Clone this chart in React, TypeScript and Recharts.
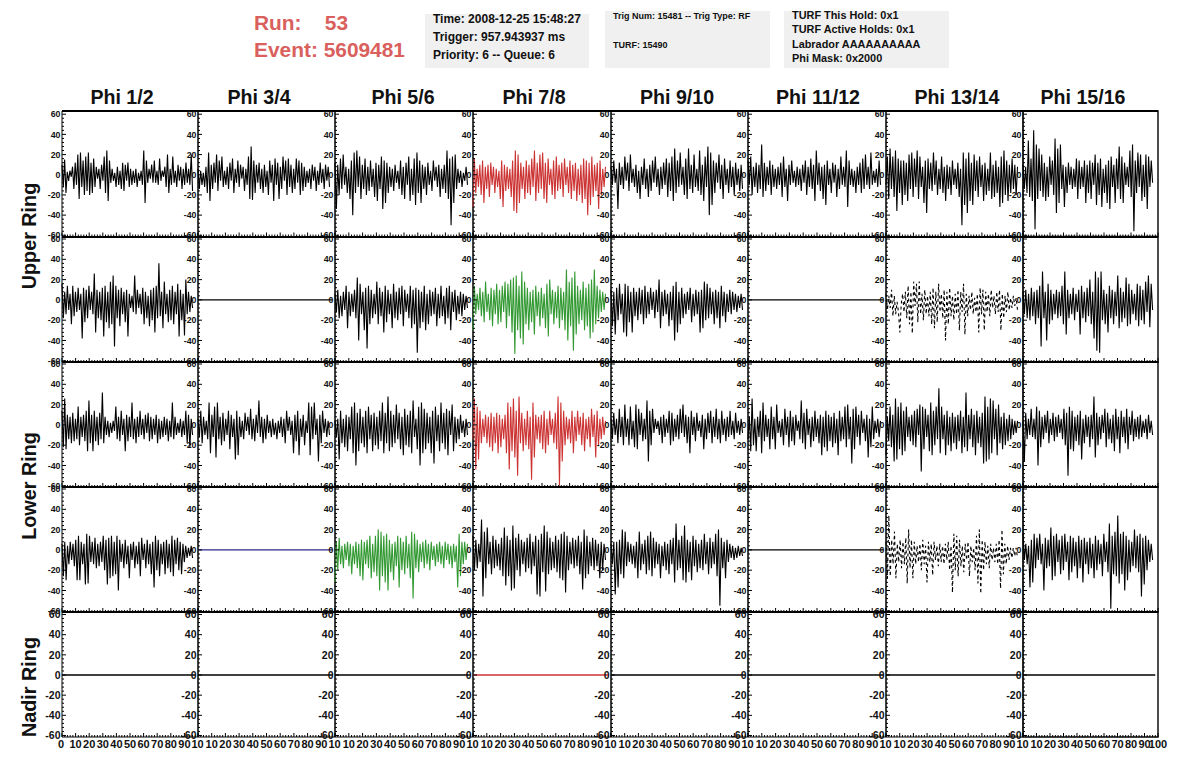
import { LineChart, Line, XAxis, YAxis, ReferenceArea, ReferenceLine } from 'recharts';

// ADC traces, one per antenna, in mV
const upper12 = [10,-12,15,-18,3,-6,4,-2,8,-14,12,-10,20,-24,22,-12,14,-20,18,-16,22,-20,12,-18,16,-12,8,-4,6,-14,10,-6,18,-18,24,-26,14,-8,6,-6,2,-12,8,-10,4,-14,12,-16,10,-6,12,-12,6,-10,4,-8,6,-12,2,-6,4,-10,24,-28,14,-8,6,-4,10,-8,14,-8,4,-10,16,-6,4,-2,8,-12,20,-18,6,-10,18,-8,4,-12,10,-6,8,-14,6,-10,12,-8,6,-10,20,-16];
const upper34 = [6,-14,4,-10,2,-12,8,-18,22,-26,10,-14,12,-8,20,-16,14,-6,18,-12,4,-10,8,-14,12,-6,16,-18,6,-8,14,-12,10,-4,8,-16,6,-10,18,-24,28,-25,14,-18,10,-8,12,-14,6,-18,10,-12,4,-20,14,-8,10,-26,16,-10,12,-24,8,-14,18,-6,14,-20,16,-12,10,-18,6,-14,16,-8,14,-20,12,-16,8,-12,4,-8,6,-14,10,-6,8,-16,4,-10,12,-8,6,-14,10,-6,8,-12];
const upper56 = [12,-34,10,-20,16,-14,20,-10,8,-18,6,-24,14,-40,22,-18,24,-12,18,-24,10,-14,16,-20,8,-16,14,-12,6,-22,12,-26,10,-14,18,-34,14,-28,12,-18,8,-12,6,-16,10,-8,4,-14,14,-20,8,-24,12,-10,18,-26,6,-20,16,-30,22,-18,14,-28,10,-14,8,-20,12,-10,4,-16,14,-6,8,-12,10,-22,6,-14,10,-18,24,-24,16,-50,18,-28,20,-14,6,-8,4,-12,2,-6,8,-10];
const upper78 = [-32,16,-18,6,-12,10,-20,14,-28,8,-14,10,-22,12,-10,8,-18,6,-12,4,-24,14,-32,10,-16,8,-14,6,-22,14,-36,24,-38,20,-28,12,-14,8,-24,14,-18,10,-20,16,-12,24,-26,12,-18,20,-14,22,-24,12,-28,16,-10,6,-20,14,-24,18,-16,10,-14,12,-22,16,-10,8,-18,14,-24,10,-16,12,-26,6,-20,10,-28,16,-24,14,-40,12,-30,18,-22,10,-16,12,-34,14,-20,6,-12,8];
const upper910 = [8,-10,14,-8,6,-34,12,-10,8,-14,18,-6,12,-16,20,-8,6,-12,10,-18,4,-24,8,-10,16,-14,6,-22,10,-16,14,-8,18,-12,6,-20,8,-14,12,-10,16,-22,12,-16,18,-26,26,-18,14,-12,22,-10,8,-20,16,-24,26,-14,10,-18,20,-12,6,-16,24,-20,10,-26,18,-12,28,-40,22,-30,14,-18,12,-8,20,-14,10,-24,16,-10,6,-18,14,-12,8,-20,12,-10,6,-16,10,-14];
const upper1112 = [14,-10,18,-20,8,-12,12,-18,10,-14,30,-22,12,-16,8,-10,14,-20,10,-12,6,-14,8,-10,12,-22,18,-12,6,-26,10,-10,14,-8,4,-12,8,-10,6,-16,10,-8,14,-20,8,-12,16,-14,10,-26,24,-10,12,-16,8,-24,10,-30,14,-10,6,-18,12,-8,10,-22,6,-14,18,-10,8,-12,24,-32,14,-10,6,-12,4,-18,8,-10,12,-18,16,-14,20,-10,8,-14,22,-10,4,-8,6,-12,14,-10];
const upper1314 = [-10,18,-24,26,-14,18,-22,24,-36,16,-18,14,-30,14,-20,12,-26,20,-14,22,-22,16,-12,24,-24,18,-12,8,-28,14,-38,16,-14,12,-16,22,-10,14,-20,6,-14,18,-18,8,-26,10,-14,8,-20,14,-10,6,-14,12,-22,6,-50,22,-30,16,-38,22,-26,12,-30,20,-16,14,-22,18,-12,10,-26,12,-20,6,-16,22,-24,10,-22,14,-18,8,-32,18,-28,24,-20,14,-26,10,-18,16,-14,10,-20,8];
const upper1516 = [10,-14,8,-18,34,-22,16,-26,44,-54,30,-24,26,-16,20,-22,12,-26,8,-22,18,-10,14,-20,36,-38,26,-28,30,-14,10,-32,8,-18,12,-10,8,-14,6,-12,16,-24,14,-14,8,-12,14,-28,10,-18,14,-24,12,-10,20,-30,12,-20,16,-32,6,-18,10,-28,14,-34,18,-12,10,-28,16,-14,28,-24,18,-28,12,-10,8,-12,24,-22,30,-56,14,-18,22,-12,20,-26,10,-22,20,-34,18,-12,14,-8];

const upper12v = [16,-18,8,-14,14,-10,6,-24,14,-16,8,-12,12,-10,6,-38,12,-22,10,-18,14,-10,8,-14,26,-32,10,-18,8,-20,12,-36,14,-22,8,-28,18,-24,24,-46,14,-18,10,-26,12,-14,8,-22,10,-36,6,-8,4,-12,24,-14,10,-8,6,-14,12,-24,8,-18,4,-26,10,-20,12,-32,14,-18,36,-16,8,-28,18,-14,6,-22,10,-20,14,-24,8,-14,16,-36,10,-20,6,-35,20,-14,8,-12,4,-8];
const upper56v = [6,-12,10,-18,4,-16,8,-10,14,-28,8,-16,6,-12,10,-18,22,-40,16,-14,8,-30,12,-48,14,-24,10,-18,6,-14,18,-24,12,-16,8,-32,14,-22,10,-14,6,-28,16,-18,8,-20,12,-14,14,-26,10,-12,6,-18,14,-28,10,-24,12,-52,10,-28,8,-22,14,-30,6,-24,10,-16,8,-14,12,-26,6,-18,14,-16,4,-24,12,-18,14,-30,8,-12,10,-20,4,-14,8,-16,6,-10,4,-8];
const upper78v = [-30,14,-14,6,-10,12,-16,8,-22,18,-12,6,-20,12,-26,10,-14,16,-24,10,-22,14,-12,18,-28,16,-16,20,-32,22,-53,24,-30,14,-38,28,-44,18,-24,12,-30,8,-22,10,-34,14,-16,8,-26,12,-18,6,-28,16,-36,20,-14,10,-24,8,-18,14,-28,12,-20,8,-30,30,-40,18,-26,22,-50,28,-34,14,-24,10,-20,18,-30,12,-26,16,-38,20,-32,30,-24,14,-18,10,-12,8,-10,6];
const upper910v = [10,-26,8,-34,12,-20,16,-14,6,-32,16,-36,14,-22,8,-32,12,-16,8,-20,12,-14,10,-24,14,-18,8,-14,12,-10,8,-18,10,-12,20,-28,8,-16,10,-14,6,-26,8,-20,14,-40,18,-32,8,-24,12,-18,6,-14,8,-10,12,-22,6,-16,10,-14,8,-32,10,-28,18,-20,16,-18,12,-14,8,-24,10,-18,8,-28,14,-16,8,-22,6,-12,10,-14,8,-10,6,-12,4,-8,6,-10];
const upper1314v = [6,-10,4,-8,10,-16,4,-14,-2,-12,-32,-4,6,-12,8,-18,14,-24,8,-33,18,-6,16,-22,18,-14,6,-20,10,-14,4,-16,8,-24,12,-28,8,-22,16,-12,6,-18,10,-40,8,-24,12,-16,4,-20,6,-14,10,-30,8,-12,16,-34,6,-16,4,-10,8,-14,2,-12,6,-32,12,-14,10,-30,8,-12,6,-16,10,-8,4,-14,8,-12,10,-30,6,-18,4,-12,8,-10,2,-8,4,-6,2,-10];
const upper1516v = [8,-14,10,-18,6,-20,12,-16,8,-24,10,-18,14,-46,28,-18,8,-40,16,-24,10,-20,6,-14,10,-18,8,-16,14,-24,28,-34,10,-18,6,-14,12,-20,6,-12,10,-34,14,-18,8,-22,12,-16,20,-24,8,-38,28,-50,22,-52,28,-20,10,-24,6,-32,14,-18,10,-24,8,-16,24,-28,12,-22,8,-18,22,-26,16,-24,10,-14,6,-20,16,-26,14,-20,10,-24,18,-12,24,-27,16,-10];

const lower12 = [14,-22,26,-24,10,-14,8,-18,12,-16,6,-14,18,-20,8,-12,10,-16,14,-26,24,-18,10,-26,14,-16,8,-20,12,-14,32,-18,8,-10,4,-12,2,-8,4,-6,18,-14,8,-16,14,-10,6,-26,10,-16,8,-12,22,-14,6,-18,8,-12,14,-10,6,-14,10,-8,12,-16,8,-14,6,-10,10,-18,6,-14,4,-12,8,-10,6,-16,4,-12,22,-14,8,-10,2,-8,6,-12,4,-10,14,-18,10,-22,6,-10];
const lower34 = [6,-12,14,-18,8,-10,4,-14,22,-28,10,-12,18,-32,22,-14,8,-20,12,-16,6,-10,14,-24,10,-12,6,-34,14,-30,8,-12,4,-14,12,-6,8,-10,16,-14,6,-16,10,-8,24,-12,8,-18,6,-14,10,-8,4,-12,6,-10,2,-14,4,-8,8,-12,6,-18,14,-6,8,-10,4,-28,10,-16,14,-30,6,-12,10,-20,4,-8,22,-30,18,-14,22,-10,6,-36,10,-18,14,-8,6,-12,4,-10];
const lower56 = [4,-12,6,-34,14,-18,6,-22,10,-26,8,-14,18,-28,22,-40,12,-26,16,-18,8,-22,14,-28,18,-14,10,-26,12,-20,8,-24,14,-16,22,-28,12,-18,28,-26,14,-22,10,-18,20,-14,12,-24,8,-30,16,-20,10,-22,14,-28,24,-12,6,-24,18,-40,22,-28,16,-24,12,-18,8,-28,14,-38,18,-16,10,-26,22,-18,12,-24,16,-30,14,-10,20,-26,8,-18,6,-14,10,-8,4,-12,6,-10];
const lower78 = [-14,26,-44,18,-34,14,-18,6,-12,10,-18,8,-22,12,-26,8,-18,12,-28,10,-22,6,-14,10,-28,22,-44,18,-26,26,-32,14,-50,28,-18,12,-26,6,-20,14,-24,8,-54,22,-32,10,-14,8,-18,10,-24,14,-28,6,-20,14,-10,6,-18,12,-24,28,-60,22,-36,14,-20,8,-14,6,-18,14,-28,8,-16,14,-10,8,-20,12,-26,6,-14,8,-22,16,-12,10,-32,14,-20,6,-14,8,-10,4];
const lower910 = [6,-14,12,-10,6,-18,16,-12,8,-20,20,-12,6,-20,18,-14,4,-22,20,-24,16,-10,12,-16,6,-14,24,-36,14,-20,16,-8,6,-4,4,-10,8,-18,10,-12,6,-8,14,-20,12,-16,6,-12,10,-14,16,-8,20,-12,10,-18,8,-28,14,-10,8,-16,12,-6,4,-12,10,-24,6,-14,12,-8,14,-18,8,-12,16,-14,6,-18,14,-10,6,-16,8,-12,14,-10,4,-14,12,-8,4,-10,6,-8];
const lower1112 = [-14,8,-26,26,-20,6,-26,8,-12,14,-28,22,-16,10,-12,6,-24,18,-14,8,-24,20,-8,4,-12,6,-20,16,-10,8,-22,14,-16,8,-20,10,-6,4,-14,24,-18,12,-24,16,-10,6,-22,8,-16,14,-12,6,-18,10,-30,8,-22,14,-26,10,-16,8,-22,12,-18,6,-30,14,-16,8,-14,18,-22,20,-14,8,-38,16,-24,18,-12,10,-20,14,-8,6,-16,10,-32,6,-22,18,-14,4,-8,6,-12,4];
const lower1314 = [-30,8,-16,18,-22,10,-36,26,-34,18,-24,22,-30,14,-26,18,-12,8,-16,10,-20,14,-22,16,-10,20,-46,18,-24,16,-12,10,-26,22,-30,14,-20,18,-14,36,-28,18,-14,10,-30,14,-20,8,-26,12,-18,8,-24,10,-16,14,-28,8,-22,32,-26,10,-14,16,-22,10,-30,14,-18,8,-22,12,-38,28,-36,18,-34,26,-28,24,-14,16,-30,20,-18,8,-24,12,-20,6,-16,10,-14,6,-10,4,-8,4];
const lower1516 = [4,-36,12,-14,6,-10,16,-12,6,-14,18,-40,14,-22,8,-14,10,-8,14,-18,6,-10,12,-16,8,-12,10,-8,6,-14,16,-20,12,-50,18,-24,14,-26,8,-16,10,-20,14,-34,6,-18,10,-12,8,-22,10,-14,28,-32,12,-20,8,-14,10,-8,16,-22,12,-14,6,-18,10,-26,16,-14,8,-28,14,-12,8,-18,16,-24,8,-10,14,-16,6,-12,8,-14,10,-12,4,-8,6,-14,10,-8,4,-10];

const lower12v = [6,-26,8,-30,4,-14,8,-10,6,-16,10,-30,14,-30,8,-14,6,-34,16,-33,14,-12,8,-14,12,-18,6,-16,8,-12,14,-20,10,-34,12,-28,14,-26,8,-24,14,-40,10,-12,6,-18,10,-14,4,-28,6,-10,8,-18,4,-14,8,-26,12,-10,6,-18,10,-14,6,-24,8,-37,14,-20,10,-26,6,-14,8,-24,10,-18,6,-22,14,-26,10,-14,12,-20,8,-24,6,-12,4,-8,2,-6,4,-8];
const lower56v = [-32,8,-20,12,-14,4,-18,6,-10,8,-16,6,-24,4,-14,8,-18,6,-26,10,-30,8,-14,10,-18,14,-28,6,-22,14,-26,20,-40,18,-26,14,-32,16,-40,10,-22,6,-30,8,-16,14,-37,12,-20,8,-24,14,-18,6,-28,18,-48,16,-18,10,-22,6,-12,8,-18,10,-14,6,-20,8,-10,4,-16,6,-12,8,-14,4,-18,8,-10,6,-14,4,-18,6,-12,4,-37,16,-26,8,-14,8,-10,6];
const lower78v = [14,-20,10,-18,6,-12,30,-46,18,-28,22,-14,8,-24,14,-18,10,-16,6,-20,12,-26,22,-35,14,-26,10,-40,24,-38,12,-20,16,-26,10,-14,8,-22,12,-18,16,-24,8,-16,14,-44,10,-46,16,-22,24,-41,18,-24,12,-20,8,-18,14,-22,10,-28,16,-30,18,-42,14,-20,8,-14,12,-18,10,-16,14,-24,8,-39,20,-28,14,-24,8,-16,12,-20,10,-16,6,-28,8,-20,6,-10];
const lower910v = [6,-14,8,-44,8,-37,10,-24,20,-28,18,-16,8,-12,6,-14,4,-18,8,-28,18,-20,6,-14,10,-24,14,-20,18,-26,12,-18,8,-14,6,-28,4,-16,8,-20,6,-24,10,-14,12,-32,26,-20,10,-18,14,-30,24,-32,10,-22,8,-30,14,-16,10,-22,6,-18,10,-20,16,-14,8,-24,12,-18,8,-14,16,-26,20,-55,12,-18,8,-28,10,-12,6,-8,4,-10,2,-8,4,-6,2,-6];
const lower1314v = [8,-28,34,-26,10,-14,18,-28,6,-12,10,-18,8,-14,12,-33,20,-18,10,-28,8,-14,4,-12,6,-20,10,-14,4,-32,8,-12,6,-25,8,-10,4,-16,6,-12,4,-14,6,-10,8,-20,4,-42,16,-20,14,-26,10,-16,4,-22,6,-10,8,-26,4,-12,2,-20,14,-33,20,-43,10,-20,8,-14,4,-18,6,-10,2,-12,6,-14,10,-38,20,-24,6,-14,4,-10,2,-8,2,-6,2,-8];
const lower1516v = [16,-10,6,-14,4,-37,10,-32,16,-18,12,-10,16,-14,6,-40,12,-18,10,-16,22,-30,14,-26,16,-12,10,-24,14,-20,16,-12,8,-30,14,-22,12,-16,8,-28,14,-18,10,-32,12,-14,8,-24,12,-18,6,-28,14,-20,10,-14,6,-26,16,-12,8,-22,26,-58,14,-24,18,-26,34,-33,16,-24,18,-40,14,-30,10,-22,8,-16,20,-18,14,-22,16,-46,12,-34,14,-20,10,-12,6,-10];

const flat = [0, 0];

const ringNames = ['Upper Ring', 'Lower Ring', 'Nadir Ring'];
const phiNames = ['Phi 1/2', 'Phi 3/4', 'Phi 5/6', 'Phi 7/8', 'Phi 9/10', 'Phi 11/12', 'Phi 13/14', 'Phi 15/16'];

const rows = [
  [upper12, upper34, upper56, upper78, upper910, upper1112, upper1314, upper1516],
  [upper12v, flat, upper56v, upper78v, upper910v, flat, upper1314v, upper1516v],
  [lower12, lower34, lower56, lower78, lower910, lower1112, lower1314, lower1516],
  [lower12v, flat, lower56v, lower78v, lower910v, flat, lower1314v, lower1516v],
  [flat, flat, flat, flat, flat, flat, flat, flat],
];

const RED = '#cc3333';
const GREEN = '#339933';
const NAVY = '#2a2a8c';
const traceColors: Record<string, string> = { '0,3': RED, '1,3': GREEN, '2,3': RED, '3,2': GREEN, '3,1': NAVY, '4,3': RED };
const dashed = ['1,6', '3,6'];

const colX = [62, 198, 335, 473, 611, 748, 886, 1023, 1158];
const rowY = [111, 236.5, 361.5, 486.5, 611.5, 736.5];
// the y range differs a little from row to row in the picture
const rowDomains: [number, number][] = [[-61.2, 63.2], [-61.2, 62], [-61.2, 62], [-61.2, 62], [-61.5, 62.5]];
const titleX = [122, 259, 403, 534, 677, 818, 957, 1083];
const ringY = [236, 486, 687];
// axes take 1px each, so the plot starts at margin + 1
const M = { top: 6, right: 14, bottom: 21, left: 33 };
const FONT = '"Liberation Sans", Arial, sans-serif';

const yTicks: number[] = [];
for (let v = -60; v <= 60; v += 4) yTicks.push(v);
const xTicks: number[] = [];
for (let v = 0; v <= 100; v += 2) xTicks.push(v);

function Panel({ values, row, col }: { values: number[]; row: number; col: number }) {
  const key = `${row},${col}`;
  const lastRow = row === 4;
  const lastCol = col === 7;
  const domain = rowDomains[row];
  const isFlat = values === flat;
  const end = isFlat ? 98 : 96;
  const data = values.map((y, i) => ({ x: (i * end) / (values.length - 1), y }));
  const w = colX[col + 1] - colX[col];
  const h = rowY[row + 1] - rowY[row];
  const labelSize = lastRow ? 10.5 : 8.8;

  const yTick = ({ x, y, payload }: any) => {
    const major = payload.value % 20 === 0;
    return (
      <g>
        <line x1={x} x2={x + (major ? 4 : 2)} y1={y} y2={y} stroke="#000" />
        {major && (
          <text x={x - 1.5} y={y + labelSize * 0.36} textAnchor="end" fontSize={labelSize} fontWeight="bold" fontFamily={FONT} fill="#111">
            {payload.value}
          </text>
        )}
      </g>
    );
  };

  const xTick = ({ x, y, payload }: any) => {
    const v = payload.value;
    const major = v % 10 === 0;
    let label = null;
    if (lastRow && major) {
      if (v === 100 && !lastCol) {
        label = <text x={x - 6.5} y={y + 10.5} fontSize={11} fontWeight="bold" fontFamily={FONT} fill="#111">10</text>;
      } else if (v > 0 || col === 0) {
        label = <text x={v === 0 ? x - 1 : x} y={y + 10.5} textAnchor="middle" fontSize={11} fontWeight="bold" fontFamily={FONT} fill="#111">{v}</text>;
      }
    }
    return (
      <g>
        <line x1={x} x2={x} y1={y} y2={y - (major ? 4 : 2)} stroke="#000" />
        {label}
      </g>
    );
  };

  return (
    <div style={{ position: 'absolute', left: colX[col] - M.left - 1, top: rowY[row] - M.top }}>
      <LineChart width={w + M.left + 1 + M.right} height={h + M.top + M.bottom + 1} data={data} margin={M}>
        <XAxis dataKey="x" type="number" domain={[0, 100]} ticks={xTicks} interval={0} height={1} tickSize={0} tickMargin={0} axisLine={false} tickLine={false} tick={xTick} />
        <YAxis type="number" domain={domain} ticks={yTicks} interval={0} width={1} tickSize={0} tickMargin={0} axisLine={false} tickLine={false} tick={yTick} allowDataOverflow />
        <ReferenceArea x1={0} x2={100} y1={domain[0]} y2={domain[1]} fill="none" stroke="#000" strokeWidth={lastCol ? 1.4 : 1} fillOpacity={0} />
        <ReferenceLine y={domain[1]} stroke="#000" strokeWidth={2} />
        <Line
          dataKey="y"
          stroke={traceColors[key] || '#000'}
          strokeWidth={isFlat ? 1.3 : 1.1}
          strokeDasharray={dashed.includes(key) ? '3 3' : undefined}
          dot={false}
          isAnimationActive={false}
        />
      </LineChart>
    </div>
  );
}

const boxText = (left: number, top: number, size: number, text: string) => (
  <div key={text} style={{ position: 'absolute', left, top, fontSize: size, fontWeight: 'bold', lineHeight: 1, color: '#111', whiteSpace: 'nowrap' }}>
    {text}
  </div>
);

const greyBox = (left: number, top: number, width: number, height: number) => (
  <div style={{ position: 'absolute', left, top, width, height, background: '#f0f0f0' }} />
);

export default function App() {
  return (
    <div style={{ position: 'absolute', left: 0, top: 0, width: 1196, height: 772, background: '#fff', overflow: 'hidden', fontFamily: FONT }}>
      <div style={{ position: 'absolute', left: 254, top: 13, fontSize: 20.9, fontWeight: 'bold', lineHeight: 1, color: '#d9605c', whiteSpace: 'pre' }}>{'Run:    53'}</div>
      <div style={{ position: 'absolute', left: 254, top: 40, fontSize: 20.9, fontWeight: 'bold', lineHeight: 1, color: '#d9605c', whiteSpace: 'pre' }}>{'Event: 5609481'}</div>

      {greyBox(425, 14, 164, 54)}
      {greyBox(605, 11, 165, 57)}
      {greyBox(784, 11, 165, 57)}
      {boxText(433, 12.5, 12, 'Time: 2008-12-25 15:48:27')}
      {boxText(433, 30.5, 12, 'Trigger: 957.943937 ms')}
      {boxText(433, 48.5, 12, 'Priority: 6 -- Queue: 6')}
      {boxText(613, 12, 9, 'Trig Num: 15481 -- Trig Type: RF')}
      {boxText(613, 40.5, 9, 'TURF: 15490')}
      {boxText(792, 9.5, 10.9, 'TURF This Hold: 0x1')}
      {boxText(792, 23.5, 10.9, 'TURF Active Holds: 0x1')}
      {boxText(792, 38.5, 10.9, 'Labrador AAAAAAAAAA')}
      {boxText(792, 52.5, 10.9, 'Phi Mask: 0x2000')}

      {phiNames.map((name, i) => (
        <div key={name} style={{ position: 'absolute', left: titleX[i] - 60, width: 120, top: 88, textAlign: 'center', fontSize: 19.6, fontWeight: 'bold', lineHeight: 1, color: '#111' }}>
          {name}
        </div>
      ))}
      {ringNames.map((name, i) => (
        <div key={name} style={{ position: 'absolute', left: 29 - 60, width: 120, top: ringY[i] - 10, textAlign: 'center', fontSize: 19.8, fontWeight: 'bold', lineHeight: '20px', color: '#111', transform: 'rotate(-90deg)' }}>
          {name}
        </div>
      ))}

      {rows.map((cells, row) => cells.map((values, col) => <Panel key={`${row}-${col}`} values={values} row={row} col={col} />))}
    </div>
  );
}
